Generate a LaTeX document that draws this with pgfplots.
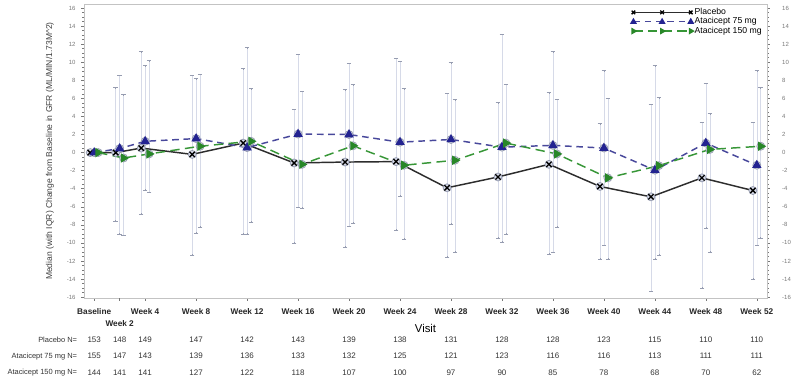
\documentclass[border=0pt]{standalone}
\usepackage{fontspec}
\setmainfont{Liberation Sans}
\usepackage{pgfplots}
\usepackage{pgfplotstable}
\pgfplotsset{compat=1.18}

\definecolor{barout}{RGB}{150,156,176}
\definecolor{barin}{RGB}{214,218,232}
\definecolor{pblack}{RGB}{45,45,45}
\definecolor{bline}{RGB}{72,72,155}
\definecolor{bmark}{RGB}{35,35,145}
\definecolor{gline}{RGB}{55,150,55}
\definecolor{gmark}{RGB}{40,135,40}
\definecolor{framecol}{RGB}{195,195,195}
\definecolor{tickcol}{RGB}{120,120,120}

% week median q1 q3 N
\pgfplotstableread{
w med q1 q3 n
0 0 0 0 153
2 0.0 -7.6 7.2 148
4 0.5 -6.8 11.2 149
8 -0.2 -11.4 8.6 147
12 1.05 -9.05 9.3 142
16 -1.15 -10.0 4.8 143
20 -1.05 -10.5 6.95 139
24 -1.0 -8.6 10.45 138
28 -3.9 -11.6 6.6 131
32 -2.7 -9.5 5.55 128
36 -1.3 -11.25 6.65 128
40 -3.75 -11.8 3.2 123
44 -4.9 -15.4 5.35 115
48 -2.8 -15.05 3.35 110
52 -4.2 -14.0 3.35 110
}\placebo

\pgfplotstableread{
w med q1 q3 n
0 0 0 0 155
2 0.45 -9.05 8.6 147
4 1.25 -4.2 9.6 143
8 1.55 -8.9 8.2 139
12 0.55 -9.05 11.6 136
16 2.05 -6.1 10.9 133
20 2.0 -8.2 9.9 132
24 1.15 -4.8 10.15 125
28 1.45 -7.95 9.95 121
32 0.6 -9.95 13.1 123
36 0.8 -11.1 11.2 116
40 0.5 -10.3 9.05 116
44 -1.95 -11.8 9.65 113
48 1.05 -8.4 7.7 111
52 -1.4 -10.3 9.05 111
}\sevfive

\pgfplotstableread{
w med q1 q3 n
0 0 0 0 144
2 -0.6 -9.2 6.4 141
4 -0.15 -4.45 10.2 141
8 0.7 -8.3 8.7 127
12 1.25 -7.7 7.1 122
16 -1.3 -6.2 6.8 118
20 0.75 -7.8 7.5 107
24 -1.4 -9.6 7.1 100
28 -0.85 -11.05 5.85 97
32 1.05 -9.05 7.6 90
36 -0.15 -8.3 5.9 85
40 -2.8 -11.8 6.0 78
44 -1.45 -11.4 6.1 68
48 0.35 -11.05 4.3 70
52 0.7 -9.5 7.2 62
}\onefifty

\pgfplotsset{
  ebarout/.style={only marks, mark=none, forget plot, line width=2.4pt, barout,
    error bars/.cd, y dir=both, y explicit, error mark=-,
    error mark options={barout, rotate=90, mark size=1.7pt, line width=0.6pt}},
  ebarin/.style={only marks, mark=none, forget plot, line width=1.1pt, barin,
    error bars/.cd, y dir=both, y explicit, error mark=none},
}

\begin{document}
\begin{tikzpicture}
\useasboundingbox (0,0) rectangle (600pt,292.5pt);
% main axis
\begin{axis}[
  at={(63pt,69pt)}, anchor=south west, scale only axis,
  width=512.25pt, height=220.5pt,
  xmin=-0.8, xmax=52.8, ymin=-16.1, ymax=16.45,
  axis line style={framecol, line width=0.6pt},
  xtick={0,4,8,12,16,20,24,28,32,36,40,44,48,52},
  xticklabels={Baseline,Week 4,Week 8,Week 12,Week 16,Week 20,Week 24,Week 28,Week 32,Week 36,Week 40,Week 44,Week 48,Week 52},
  extra x ticks={2}, extra x tick labels={Week 2},
  extra x tick style={xticklabel style={yshift=-8.3pt}},
  xtick pos=bottom, ytick pos=left, tick align=outside,
  ytick={-16,-14,...,16}, minor y tick num=3,
  major tick length=2.2pt, minor tick length=1.3pt,
  tick style={tickcol, line width=0.4pt},
  xticklabel style={font=\fontsize{6.2}{7}\selectfont\bfseries, anchor=center, yshift=-8.3pt, text=black!85},
  yticklabel style={font=\fontsize{4.5}{5}\selectfont, text=tickcol, anchor=east, inner sep=0pt, xshift=-4pt},
  /pgf/number format/assume math mode=true,
  xlabel={Visit},
  xlabel style={font=\fontsize{8.5}{9}\selectfont, at={(axis description cs:0.5,0)}, anchor=center, yshift=-22.5pt},
  ylabel={Median (with IQR) Change from Baseline in GFR (ML/MIN/1.73M\textasciicircum 2)},
  ylabel style={font=\fontsize{6.4}{7}\selectfont, text=black!75, at={(axis description cs:0,0.5)}, anchor=center, yshift=25.5pt},
  legend style={draw=none, fill=none, at={(rel axis cs:0.795,1.0)}, anchor=north west,
    font=\fontsize{6.5}{7}\selectfont, row sep=-1.2pt, nodes={inner sep=1pt}},
  legend cell align=left,
  legend image code/.code={\draw[#1, mark size=1.9pt] plot coordinates {(0pt,0pt) (21.5pt,0pt) (43pt,0pt)};},
  clip=false,
]
\addplot[ebarout] table[x expr=\thisrow{w}-0.31, y=med, y error plus expr=\thisrow{q3}-\thisrow{med}, y error minus expr=\thisrow{med}-\thisrow{q1}] {\placebo};
\addplot[ebarout] table[x=w, y=med, y error plus expr=\thisrow{q3}-\thisrow{med}, y error minus expr=\thisrow{med}-\thisrow{q1}] {\sevfive};
\addplot[ebarout] table[x expr=\thisrow{w}+0.31, y=med, y error plus expr=\thisrow{q3}-\thisrow{med}, y error minus expr=\thisrow{med}-\thisrow{q1}] {\onefifty};
\addplot[ebarin] table[x expr=\thisrow{w}-0.31, y=med, y error plus expr=\thisrow{q3}-\thisrow{med}-0.12, y error minus expr=\thisrow{med}-\thisrow{q1}-0.12] {\placebo};
\addplot[ebarin] table[x=w, y=med, y error plus expr=\thisrow{q3}-\thisrow{med}-0.12, y error minus expr=\thisrow{med}-\thisrow{q1}-0.12] {\sevfive};
\addplot[ebarin] table[x expr=\thisrow{w}+0.31, y=med, y error plus expr=\thisrow{q3}-\thisrow{med}-0.12, y error minus expr=\thisrow{med}-\thisrow{q1}-0.12] {\onefifty};

\addplot[pblack, line width=1.1pt, mark=x, mark size=2.8pt, mark options={solid, black, line width=1pt}]
  table[x expr=\thisrow{w}-0.31, y=med] {\placebo};
\addplot[bline, line width=1.1pt, dash pattern=on 5pt off 3.5pt, mark=triangle*, mark size=3pt, mark options={solid, bmark}]
  table[x=w, y=med] {\sevfive};
\addplot[gline, line width=1.1pt, dash pattern=on 7pt off 4pt, mark=triangle*, mark size=3pt, mark options={solid, gmark, rotate=-90}]
  table[x expr=\thisrow{w}+0.31, y=med] {\onefifty};
\legend{Placebo, Atacicept 75 mg, Atacicept 150 mg}
\end{axis}

% right-hand y axis labels
\begin{axis}[
  at={(63pt,69pt)}, anchor=south west, scale only axis,
  width=512.25pt, height=220.5pt,
  xmin=-0.8, xmax=52.8, ymin=-16.1, ymax=16.45,
  axis x line=none, axis y line*=right,
  axis line style={framecol, line width=0.6pt, -},
  ytick={-16,-14,...,16}, minor y tick num=3, tick align=outside,
  major tick length=2.2pt, minor tick length=1.3pt,
  tick style={tickcol, line width=0.4pt},
  yticklabel style={font=\fontsize{4.5}{5}\selectfont, text=tickcol, anchor=west, inner sep=0pt, xshift=9pt},
  /pgf/number format/assume math mode=true,
]
\addplot[draw=none, forget plot] coordinates {(0,0)};
\end{axis}

% N table
\begin{axis}[
  at={(63pt,13.3pt)}, anchor=south west, scale only axis,
  width=512.25pt, height=24.2pt,
  xmin=-0.8, xmax=52.8, ymin=1, ymax=3,
  axis line style={draw=none}, xtick=\empty,
  ytick={1,2,3}, yticklabels={Atacicept 150 mg N=, Atacicept 75 mg N=, Placebo N=},
  major tick length=0pt,
  yticklabel style={font=\fontsize{5.6}{6}\selectfont, text=black!80, anchor=east, inner sep=0pt, xshift=-5pt},
  clip=false,
  every node near coord/.append style={font=\fontsize{6}{7}\selectfont, text=black!80, anchor=center},
]
\addplot[only marks, mark=none, nodes near coords, point meta=explicit symbolic] table[x=w, y expr=3, meta=n] {\placebo};
\addplot[only marks, mark=none, nodes near coords, point meta=explicit symbolic] table[x=w, y expr=2, meta=n] {\sevfive};
\addplot[only marks, mark=none, nodes near coords, point meta=explicit symbolic] table[x=w, y expr=1, meta=n] {\onefifty};
\end{axis}
\end{tikzpicture}
\end{document}
